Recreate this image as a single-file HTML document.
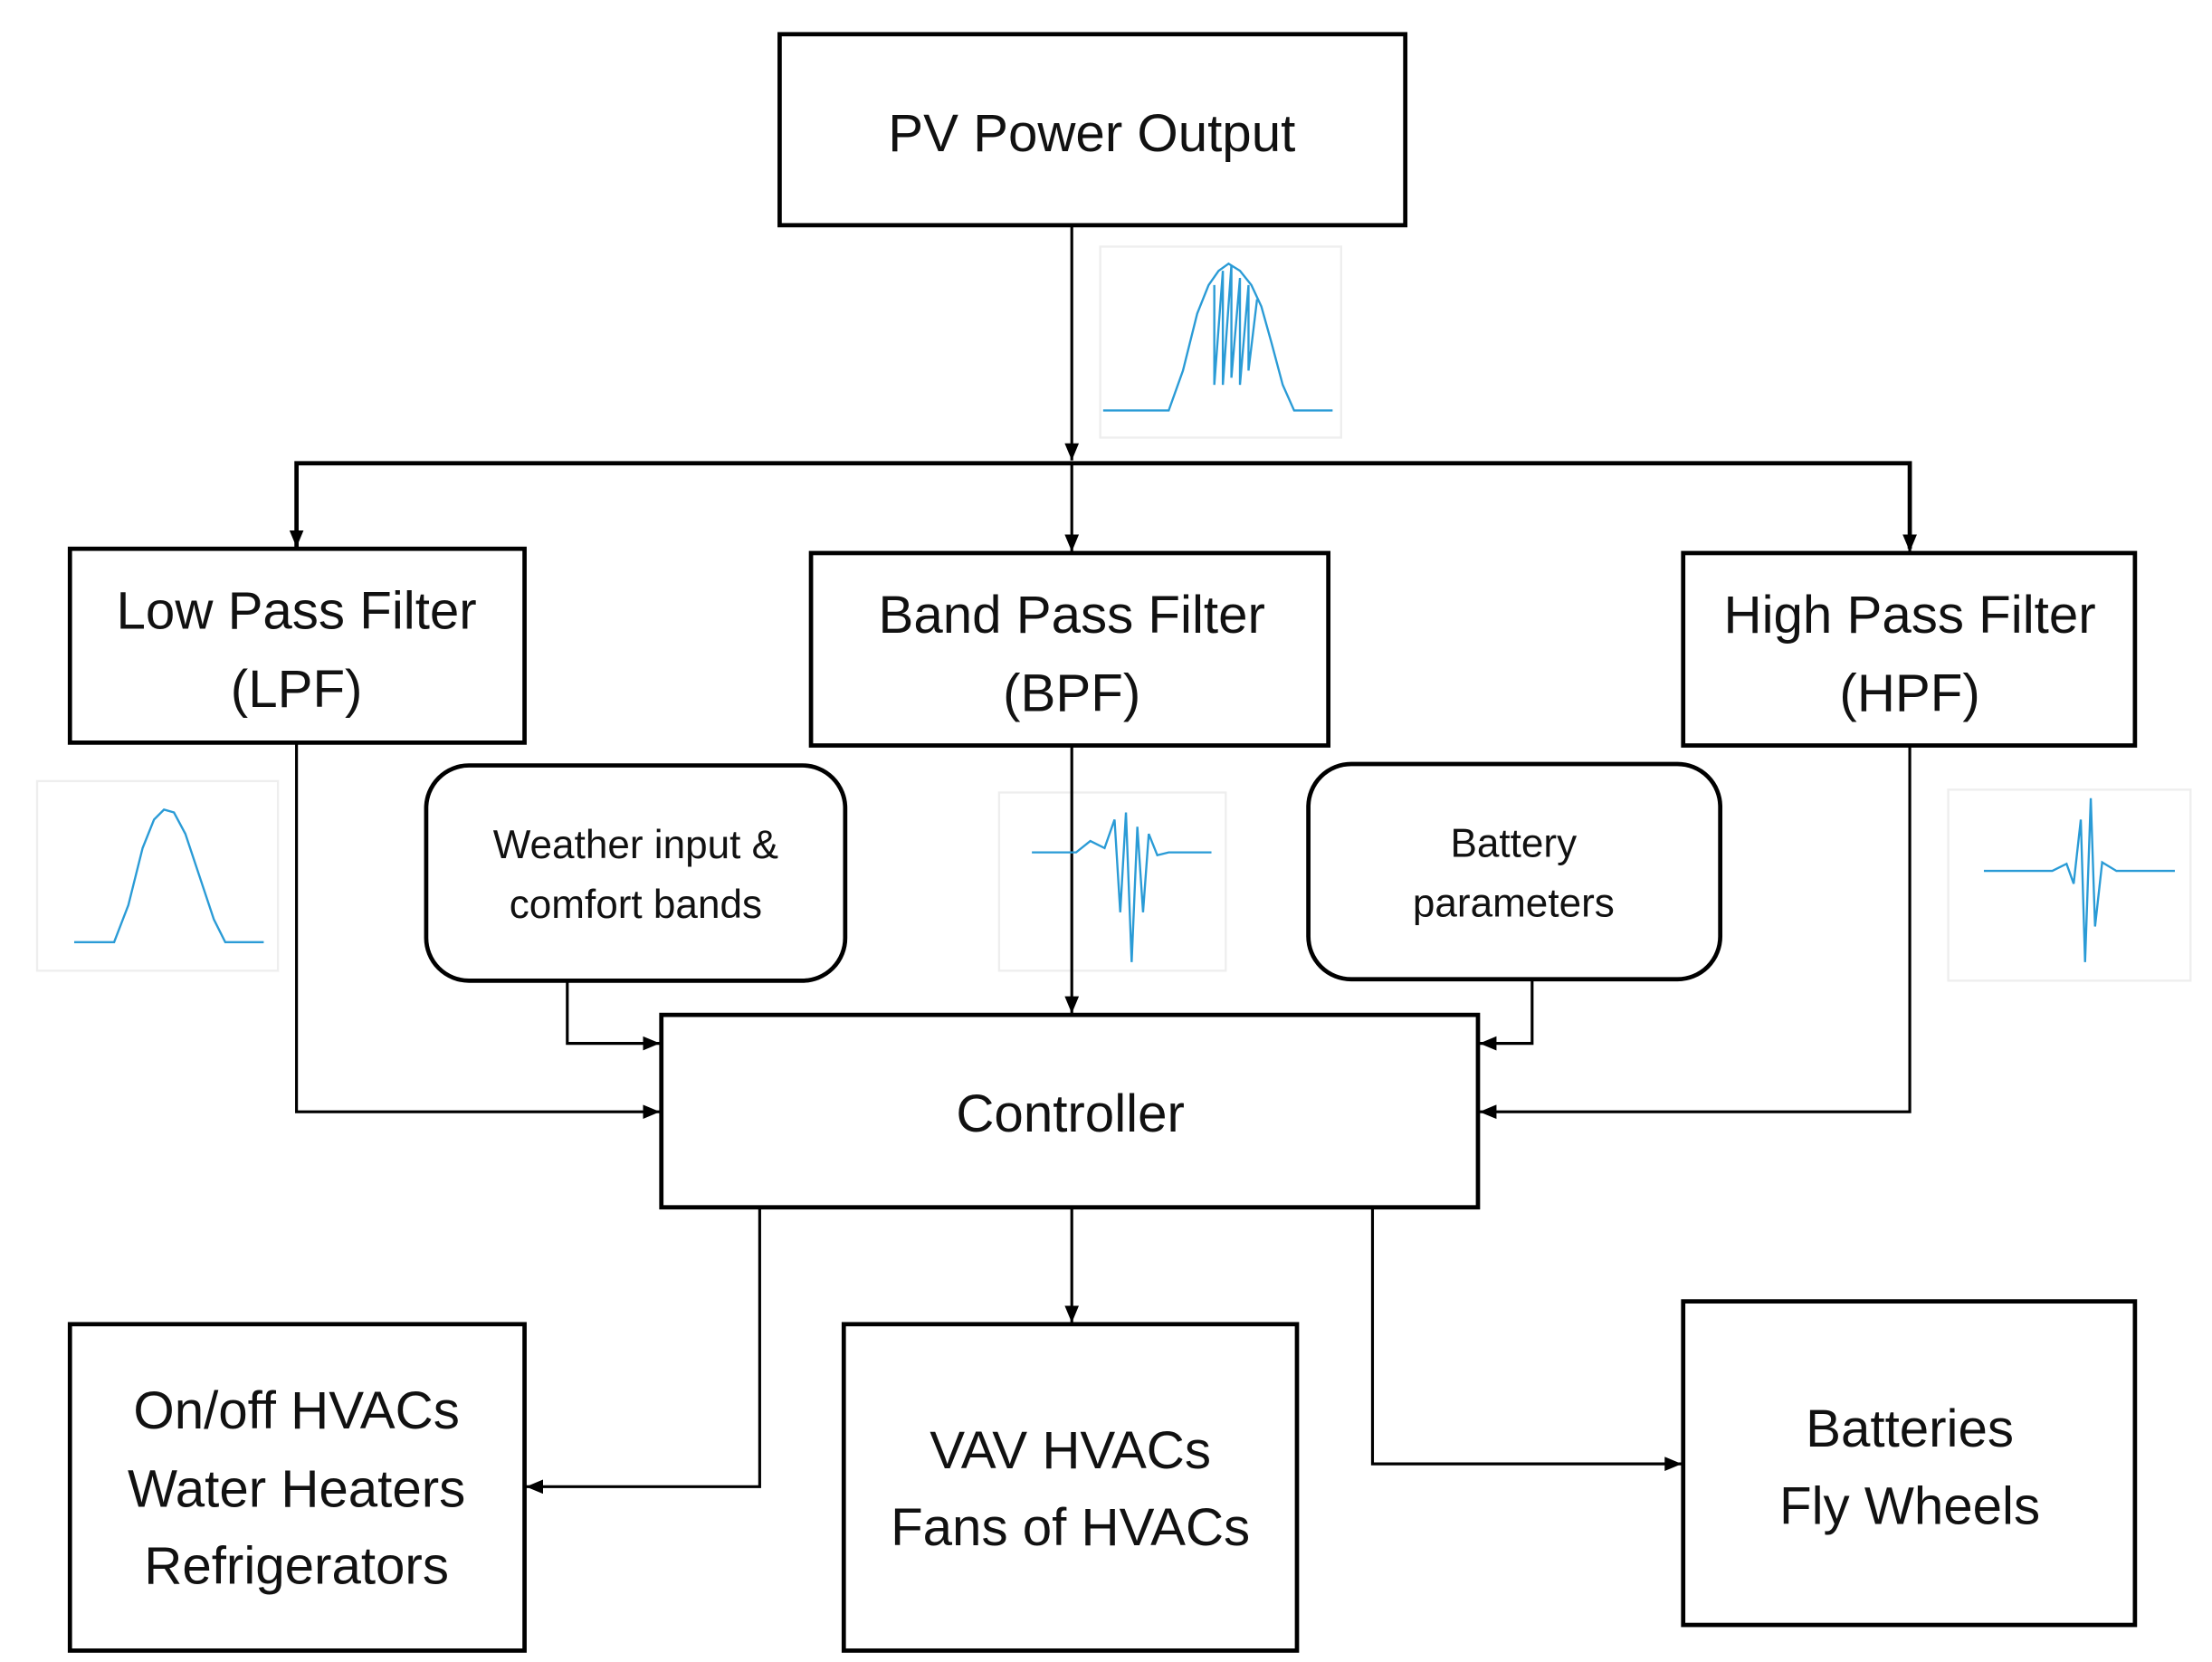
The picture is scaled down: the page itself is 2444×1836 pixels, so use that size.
<!DOCTYPE html>
<html><head><meta charset="utf-8"><style>
html,body{margin:0;padding:0;background:#fff}
svg{display:block}
text{font-family:"Liberation Sans",sans-serif;fill:#111;text-anchor:middle}
</style></head><body>
<svg width="2444" height="1836" viewBox="0 0 1552 1166" xmlns="http://www.w3.org/2000/svg">
<defs>
<marker id="a" viewBox="0 0 12 10" refX="12" refY="5" markerWidth="12" markerHeight="10" orient="auto" markerUnits="userSpaceOnUse">
<path d="M0,0 L12,5 L0,10 z" fill="#000"/></marker>
</defs>
<g fill="none" stroke="#000" stroke-width="3">
<rect x="547" y="24" width="439" height="134"/>
<rect x="49" y="385" width="319" height="136"/>
<rect x="569" y="388" width="363" height="135"/>
<rect x="1181" y="388" width="317" height="135"/>
<rect x="299" y="537" width="294" height="151" rx="30"/>
<rect x="918" y="536" width="289" height="151" rx="30"/>
<rect x="464" y="712" width="573" height="135"/>
<rect x="49" y="929" width="319" height="229"/>
<rect x="592" y="929" width="318" height="229"/>
<rect x="1181" y="913" width="317" height="227"/>
</g>
<g fill="none" stroke="#eee" stroke-width="1.5">
<rect x="772" y="173" width="169" height="134"/>
<rect x="26" y="548" width="169" height="133"/>
<rect x="701" y="556" width="159" height="125"/>
<rect x="1367" y="554" width="170" height="134"/>
</g>
<g fill="none" stroke="#000" stroke-width="2">
<line x1="752" y1="158" x2="752" y2="323" marker-end="url(#a)"/>
<polyline points="208,385 208,325 1340,325 1340,385" stroke-width="3"/>
<line x1="208" y1="325" x2="208" y2="384" marker-end="url(#a)"/>
<line x1="752" y1="325" x2="752" y2="387" marker-end="url(#a)"/>
<line x1="1340" y1="325" x2="1340" y2="387" marker-end="url(#a)"/>
<polyline points="208,521 208,780 463,780" marker-end="url(#a)"/>
<polyline points="398,688 398,732 463,732" marker-end="url(#a)"/>
<polyline points="1075,687 1075,732 1038,732" marker-end="url(#a)"/>
<polyline points="1340,523 1340,780 1038,780" marker-end="url(#a)"/>
<line x1="752" y1="523" x2="752" y2="711" marker-end="url(#a)"/>
<polyline points="533,847 533,1043 369,1043" marker-end="url(#a)"/>
<line x1="752" y1="847" x2="752" y2="928" marker-end="url(#a)"/>
<polyline points="963,847 963,1027 1180,1027" marker-end="url(#a)"/>
</g>
<g fill="none" stroke="#2a9bd6" stroke-width="1.5">
<polyline points="774,288 820,288 830,260 840,220 848,200 855,190 862,185 870,190 878,200 885,215 892,240 900,270 908,288 935,288"/>
<polyline points="852,200 852,270 858,190 858,270 864,186 864,265 870,195 870,270 876,200 876,260 882,210"/>
<polyline points="52,661 80,661 90,635 100,595 108,575 115,568 122,570 130,585 140,615 150,645 158,661 185,661"/>
<polyline points="724,598 755,598 765,590 775,595 782,575 786,640 790,570 794,675 798,580 802,640 806,585 812,600 820,598 850,598"/>
<polyline points="1392,611 1440,611 1450,606 1455,620 1460,575 1463,675 1467,560 1470,650 1475,605 1485,611 1526,611"/>
</g>
<text x="766" y="106" font-size="37">PV Power Output</text>
<text x="208" y="441" font-size="37">Low Pass Filter</text>
<text x="208" y="496" font-size="37">(LPF)</text>
<text x="752" y="444" font-size="37">Band Pass Filter</text>
<text x="752" y="499" font-size="37">(BPF)</text>
<text x="1340" y="444" font-size="37">High Pass Filter</text>
<text x="1340" y="499" font-size="37">(HPF)</text>
<text x="446" y="602" font-size="28">Weather input &amp;</text>
<text x="446" y="644" font-size="28">comfort bands</text>
<text x="1062" y="601" font-size="28">Battery</text>
<text x="1062" y="643" font-size="28">parameters</text>
<text x="751" y="794" font-size="37">Controller</text>
<text x="208" y="1002" font-size="37">On/off HVACs</text>
<text x="208" y="1057" font-size="37">Water Heaters</text>
<text x="208" y="1111" font-size="37">Refrigerators</text>
<text x="751" y="1030" font-size="37">VAV HVACs</text>
<text x="751" y="1084" font-size="37">Fans of HVACs</text>
<text x="1340" y="1015" font-size="37">Batteries</text>
<text x="1340" y="1069" font-size="37">Fly Wheels</text>
</svg>
</body></html>
